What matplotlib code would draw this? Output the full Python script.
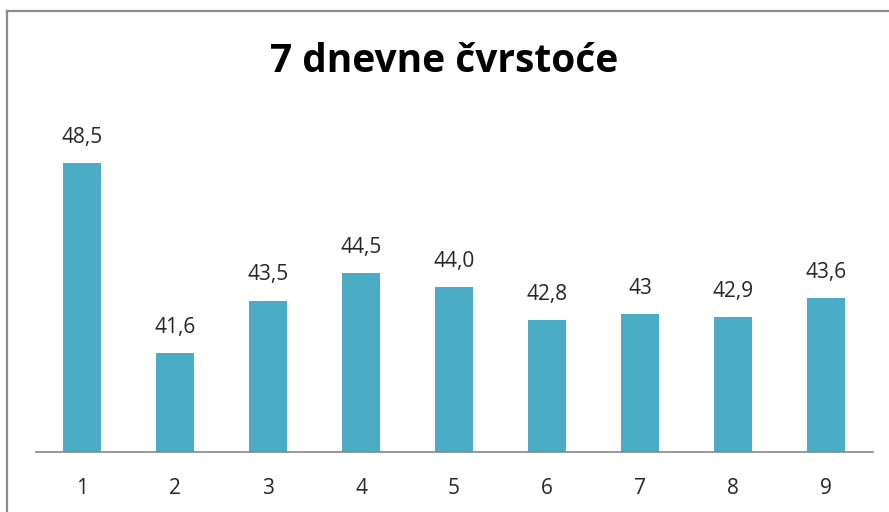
import matplotlib.pyplot as plt
import numpy as np
from matplotlib.lines import Line2D

categories = ['1', '2', '3', '4', '5', '6', '7', '8', '9']
values = [48.5, 41.6, 43.5, 44.5, 44.0, 42.8, 43.0, 42.9, 43.6]
labels = ['48,5', '41,6', '43,5', '44,5', '44,0', '42,8', '43', '42,9', '43,6']

plt.rcParams['font.family'] = ['Open Sans', 'DejaVu Sans']

fig = plt.figure(figsize=(8.89, 5.12), dpi=100)
ax = fig.add_axes([35.5 / 889, 1 - 452 / 512, 837 / 889, 385 / 512])

x = np.arange(len(categories))
bars = ax.bar(x, values, width=0.4, color='#4BACC6', zorder=2)
ax.bar_label(bars, labels=labels, padding=11, fontsize=15, color='#262626')

ax.set_xlim(-0.5, len(categories) - 0.5)
ax.set_ylim(38, 52)
ax.set_xticks(x)
ax.set_xticklabels(categories, fontsize=15, color='#262626')
ax.tick_params(axis='x', length=0, pad=19)
ax.set_yticks([])
for s in ['top', 'right', 'left']:
    ax.spines[s].set_visible(False)
ax.spines['bottom'].set_color('#868686')
ax.spines['bottom'].set_linewidth(1.2)

fig.text(0.5, 1 - 62 / 512, '7 dnevne čvrstoće', ha='center', va='center',
         fontsize=28, fontweight='bold')

# outer chart frame (left and top edges visible)
fig.add_artist(Line2D([6.5 / 889, 6.5 / 889], [0, 1 - 11 / 512],
                      transform=fig.transFigure, color='#8c8c8c', lw=1.6))
fig.add_artist(Line2D([6.5 / 889, 1], [1 - 11 / 512, 1 - 11 / 512],
                      transform=fig.transFigure, color='#8c8c8c', lw=1.6))

fig.savefig('out.png', dpi=100)
